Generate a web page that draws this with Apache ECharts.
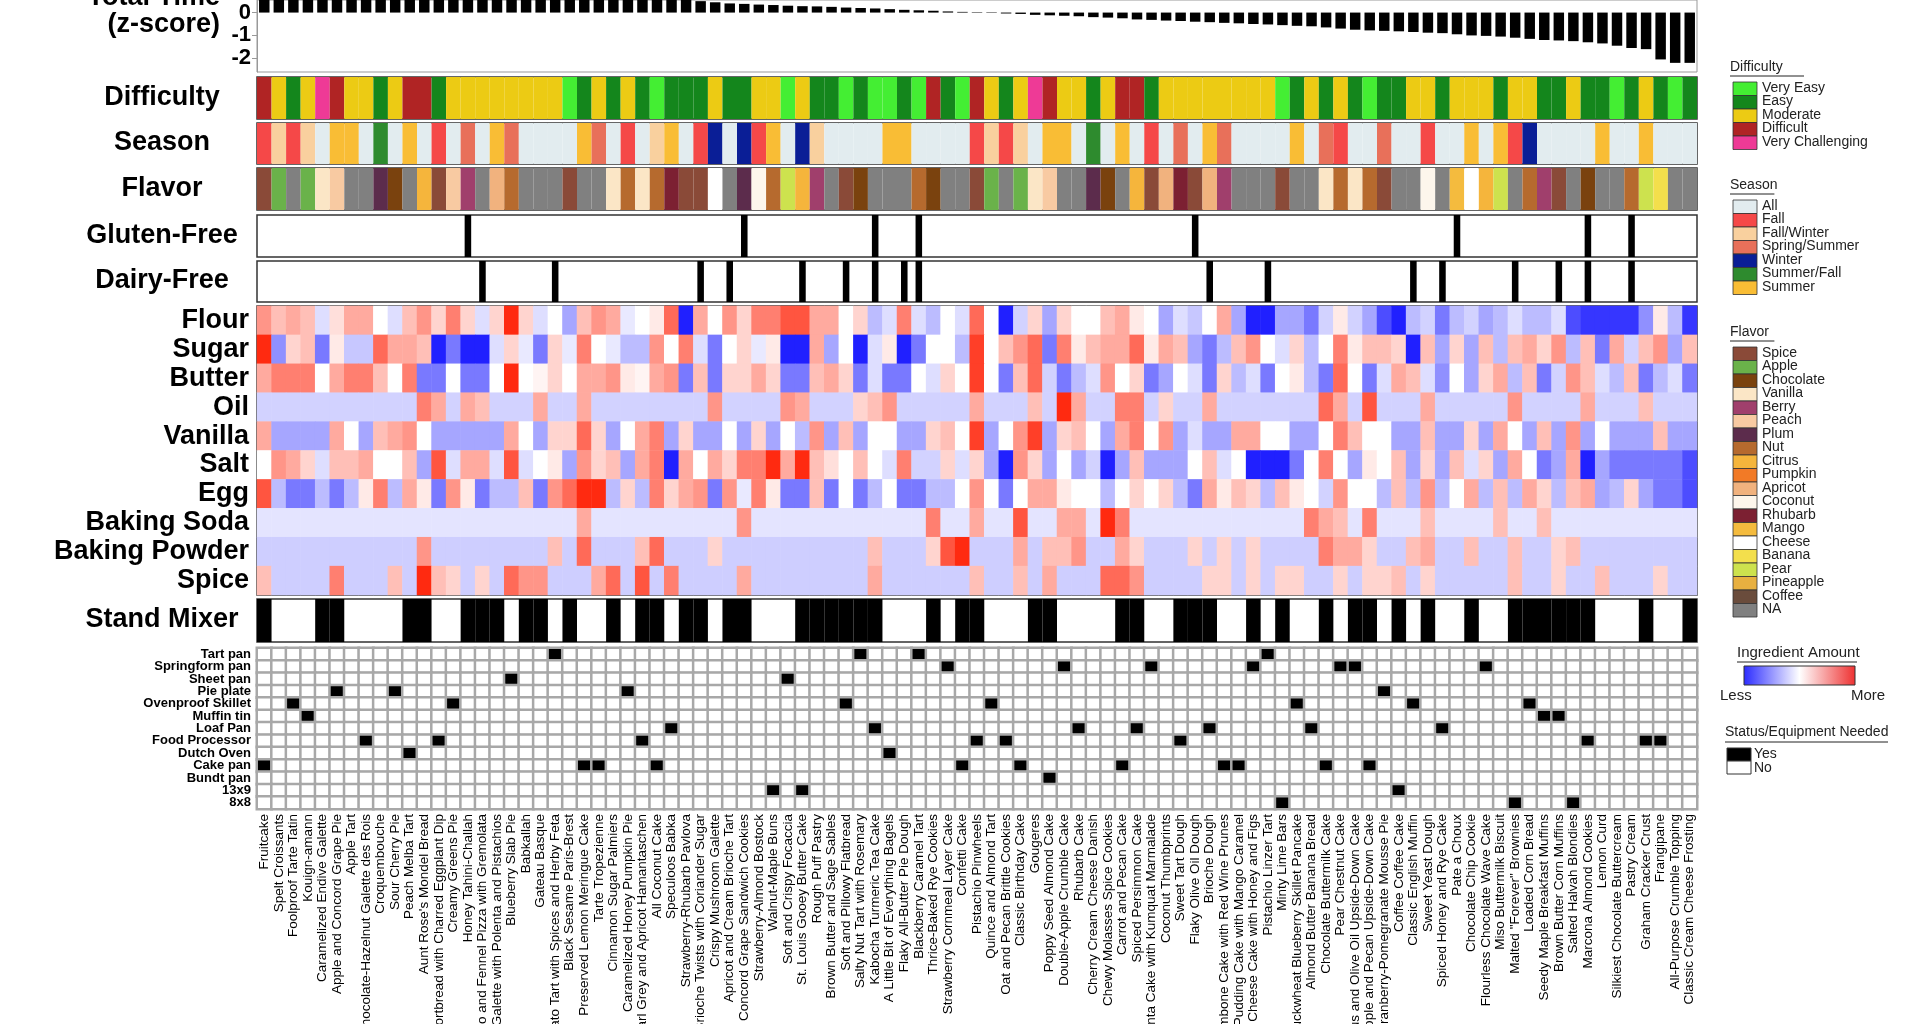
<!DOCTYPE html>
<html>
<head>
<meta charset="utf-8">
<script src="https://cdn.jsdelivr.net/npm/echarts@6/dist/echarts.min.js"></script>
<style>
  html, body { margin: 0; padding: 0; background: #fff; }
  #chart { width: 1920px; height: 1024px; }
</style>
</head>
<body>
<div id="chart"></div>
<script>
// recipe names, in plot order
const recipes = ['Fruitcake','Spelt Croissants','Foolproof Tarte Tatin','Kouign-amann','Caramelized Endive Galette','Apple and Concord Grape Pie','Apple Tart','Chocolate-Hazelnut Galette des Rois','Croquembouche','Sour Cherry Pie',
 'Peach Melba Tart',"Aunt Rose's Mondel Bread",'Shortbread with Charred Eggplant Dip','Creamy Greens Pie','Honey Tahini-Challah','Potato and Fennel Pizza with Gremolata','Plum Galette with Polenta and Pistachios','Blueberry Slab Pie','Babkallah','Gateau Basque',
 'Tomato Tart with Spices and Herby Feta','Black Sesame Paris-Brest','Preserved Lemon Meringue Cake','Tarte Tropezienne','Cinnamon Sugar Palmiers','Caramelized Honey Pumpkin Pie','Earl Grey and Apricot Hamantaschen','All Coconut Cake','Speculoos Babka','Strawberry-Rhubarb Pavlova',
 'Brioche Twists with Coriander Sugar','Crispy Mushroom Galette','Apricot and Cream Brioche Tart','Concord Grape Sandwich Cookies','Strawberry-Almond Bostock','Walnut-Maple Buns','Soft and Crispy Focaccia','St. Louis Gooey Butter Cake','Rough Puff Pastry','Brown Butter and Sage Sables',
 'Soft and Pillowy Flatbread','Salty Nut Tart with Rosemary','Kabocha Turmeric Tea Cake','A Little Bit of Everything Bagels','Flaky All-Butter Pie Dough','Blackberry Caramel Tart','Thrice-Baked Rye Cookies','Strawberry Cornmeal Layer Cake','Confetti Cake','Pistachio Pinwheels',
 'Quince and Almond Tart','Oat and Pecan Brittle Cookies','Classic Birthday Cake','Gougeres','Poppy Seed Almond Cake','Double-Apple Crumble Cake','Rhubarb Cake','Cherry Cream Cheese Danish','Chewy Molasses Spice Cookies','Carrot and Pecan Cake',
 'Spiced Persimmon Cake','Polenta Cake with Kumquat Marmalade','Coconut Thumbprints','Sweet Tart Dough','Flaky Olive Oil Dough','Brioche Dough','Trombone Cake with Red Wine Prunes','Pudding Cake with Mango Caramel','Cheese Cake with Honey and Figs','Pistachio Linzer Tart',
 'Minty Lime Bars','Buckwheat Blueberry Skillet Pancake','Almond Butter Banana Bread','Chocolate Buttermilk Cake','Pear Chestnut Cake','Citrus and Olive Oil Upside-Down Cake','Apple and Pecan Upside-Down Cake','Cranberry-Pomegranate Mousse Pie','Coffee Coffee Cake','Classic English Muffin',
 'Sweet Yeast Dough','Spiced Honey and Rye Cake','Pate a Choux','Chocolate Chip Cookie','Flourless Chocolate Wave Cake','Miso Buttermilk Biscuit','Malted "Forever" Brownies','Loaded Corn Bread','Seedy Maple Breakfast Muffins','Brown Butter Corn Muffins',
 'Salted Halvah Blondies','Marcona Almond Cookies','Lemon Curd','Silkiest Chocolate Buttercream','Pastry Cream','Graham Cracker Crust','Frangipane','All-Purpose Crumble Topping','Classic Cream Cheese Frosting'];

const totalTime = [3.1,3.0,2.8,2.7,2.6,2.5,2.4,2.2,2.1,2.0, 1.9,1.8,1.7,1.6,1.5,1.45,1.4,1.3,1.25,1.2,
 1.1,1.05,1.0,0.95,0.9,0.85,0.8,0.75,0.7,0.65, 0.5,0.45,0.4,0.38,0.35,0.33,0.3,0.28,0.27,0.25,
 0.22,0.2,0.18,0.15,0.12,0.1,0.08,0.05,0.03,0.02, -0.02,-0.04,-0.06,-0.1,-0.12,-0.14,-0.16,-0.2,-0.22,-0.25,
 -0.3,-0.32,-0.35,-0.37,-0.4,-0.42,-0.45,-0.47,-0.5,-0.52, -0.55,-0.58,-0.6,-0.65,-0.7,-0.75,-0.78,-0.8,-0.82,-0.85,
 -0.88,-0.9,-0.95,-1.0,-1.02,-1.05,-1.1,-1.15,-1.2,-1.22, -1.25,-1.3,-1.35,-1.45,-1.55,-1.6,-2.05,-2.2,-2.2];

const difficultyNames = ['Very Easy','Easy','Moderate','Difficult','Very Challenging'];
const difficultyColors = ['#44ee33','#14861c','#eccb14','#b02424','#ee3a96'];
// 0 very easy .. 4 very challenging
const difficulty = [3,2,1,2,4,3,2,2,1,2, 3,3,1,2,2,2,2,2,2,2, 2,0,1,2,1,2,1,0,1,1, 1,2,1,1,2,2,0,2,1,1,
 0,1,0,0,1,0,3,1,0,3, 2,1,2,4,3,2,2,1,2,3, 3,1,2,2,2,2,2,2,2,2, 0,1,2,1,2,1,0,1,1,2,
 2,1,2,2,2,1,2,2,1,1, 2,1,1,0,1,2,1,0,1];

const seasonNames = ['All','Fall','Fall/Winter','Spring/Summer','Winter','Summer/Fall','Summer'];
const seasonColors = ['#e2ecef','#f54848','#f9d09e','#e8705a','#0a1e96','#2e8b2e','#f9bd35'];
const season = [1,2,1,2,0,6,6,0,5,0, 6,0,1,0,3,0,6,3,0,0, 0,0,6,3,0,1,0,2,6,0, 1,4,0,4,1,6,0,4,2,0,
 0,0,0,6,6,0,0,0,0,1, 2,1,2,0,6,6,0,5,0,6, 0,1,0,3,0,6,3,0,0,0, 0,6,0,3,1,0,0,3,0,0,
 1,0,0,6,0,6,1,4,0,0, 0,0,6,0,0,6,0,0,0];

const flavorNames = ['Spice','Apple','Chocolate','Vanilla','Berry','Peach','Plum','Nut','Citrus','Pumpkin','Apricot','Coconut','Rhubarb','Mango','Cheese','Banana','Pear','Pineapple','Coffee','NA'];
const flavorColors = ['#8a4a38','#6ab24a','#7a420e','#fbe6c6','#a03f6c','#f8caa2','#5c2c4c','#b66a2e','#f5b53c','#f27a26','#f1b27e','#fdf6ec','#7c2032','#f4bb3e','#ffffff','#f3df4c','#cde24e','#e8b040','#6a4c3c','#808080'];
const flavor = [0,1,19,1,3,5,19,19,6,2, 19,8,0,5,4,19,10,7,19,19, 19,0,19,19,3,7,3,7,12,0, 0,14,19,6,11,7,16,8,4,19,
 0,2,19,19,19,7,2,19,19,0, 1,19,1,3,5,19,19,6,2,19, 8,0,10,12,0,10,4,19,19,19, 0,19,19,3,7,3,7,0,19,19,
 11,19,13,14,8,16,19,7,4,0, 19,2,19,19,7,16,15,19,19];

const glutenFree = [14,33,42,45,64,82,91,94];
const dairyFree = [15,20,30,32,37,40,42,44,45,65,69,79,81,86,89,91,94];
const standMixer = [0,4,5,10,11,14,15,16,18,19,21,24,26,27,29,30,32,33,37,38,39,40,41,42,46,48,49,53,54,59,60,63,64,65,68,70,73,75,76,78,80,83,86,87,88,89,90,91,95,98];

const ingredients = ['Flour','Sugar','Butter','Oil','Vanilla','Salt','Egg','Baking Soda','Baking Powder','Spice'];
const flour = [.5,.3,.4,.3,-.15,.15,.4,.4,0,-.15, .3,.5,.2,.6,.2,-.15,.2,1,.2,-.15, 0,-.4,.3,.5,.4,-.1,0,.1,.7,-1,
 .4,0,.5,.2,.6,.6,.8,.8,.4,.4, 0,.2,-.3,-.15,.6,-.15,-.3,0,-.15,.7, 0,-1,-.2,.2,-.4,.2,0,0,.3,.4,
 .1,0,-.4,-.15,-.25,0,.4,-.4,-1,-1, -.4,-.4,-.6,-.2,.1,-.2,-.4,-.8,-1,-.3, -.2,-.6,-.3,-.2,-.4,-.3,-.15,-.3,-.3,-.15,
 -.8,-.9,-.9,-.9,-.9,-.5,.1,-.3,-.9];
const sugar = [1,-.5,.2,.3,-.6,.1,-.25,-.25,.7,.4, .4,.3,-1,-.6,-1,-1,-.15,.2,-.1,-.6, .2,-.1,.6,0,-.1,-.3,-.3,.5,0,.6,
 -.15,-.6,0,.2,-.1,.1,-1,-1,.4,-.4, 0,-1,-.15,.1,-1,-.6,0,0,-.3,.9, 0,.3,.5,.7,-.6,.6,.1,.3,.4,.4,
 .7,.1,.4,.3,-.4,-.6,-.3,.3,.5,0, -.15,.2,-.3,0,.6,.1,.3,.3,.2,-1, .3,-.4,.2,-.4,.3,-.3,.3,.4,.2,.5,
 -.3,.3,-.6,.4,-.2,.3,.5,-.4,.3];
const butter = [.4,.6,.6,.6,0,.4,.6,.6,.3,0, .6,-.6,-.6,0,-.6,-.6,0,1,0,.05, .2,0,.4,.4,.5,.1,.05,.4,.5,-.6,
 .3,-.6,.2,.2,.4,.2,-.6,-.6,.3,.4, .2,-.6,-.15,-.6,-.6,0,-.15,.2,0,.9, 0,-.6,.3,.7,-.2,-.6,-.3,-.15,.5,0,
 .2,-.6,-.4,0,-.15,-.6,.2,-.3,-.15,-.6, 0,.1,-.3,-.6,.7,0,-.6,-.15,.4,.3, -.15,-.5,0,-.4,.2,.4,-.3,.3,-.6,-.2,
 .5,.3,-.15,-.3,.3,-.6,-.3,-.15,-.6];
const oil = [-.2,-.2,-.2,-.2,-.2,-.2,-.2,-.2,-.2,-.2, -.2,.6,.4,-.2,.4,.3,-.2,-.2,-.2,.4, -.2,-.2,.4,-.2,-.2,-.2,-.2,-.2,-.2,-.2,
 -.2,.5,-.2,-.2,-.2,-.2,.5,.4,-.2,-.2, -.2,.2,.3,.5,-.2,-.2,-.2,-.2,-.2,.4, -.2,-.2,-.2,.3,-.2,1,.4,-.2,-.2,.6,
 .6,-.2,.2,-.2,-.2,.4,-.2,-.2,-.2,-.2, -.2,-.2,-.2,.7,.4,-.2,.8,-.2,-.2,-.2, .4,-.2,-.2,-.2,-.2,-.2,.5,-.2,-.2,-.2,
 -.2,.4,-.2,-.2,-.2,.3,-.2,-.2,-.2];
const vanilla = [.4,-.4,-.4,-.4,-.4,.4,0,-.4,.3,.4, .5,0,-.4,-.4,-.4,-.4,-.4,.4,0,-.4, .2,.2,.7,.2,-.4,0,.4,.6,-.4,.2,
 -.4,-.4,0,-.4,.2,-.4,0,-.3,.5,-.4, .3,-.4,0,0,-.4,-.4,.2,.3,0,.9, -.4,0,.5,.9,-.4,.2,.3,0,-.4,.4,
 .6,0,.5,-.4,-.15,-.4,-.4,.4,.4,0, 0,-.4,-.4,0,.6,.3,0,0,-.4,-.4, .3,-.4,-.4,.2,-.4,.4,0,-.4,.3,-.4,
 .5,-.4,0,-.4,-.4,-.4,.3,-.4,-.4];
const salt = [0,.5,.4,.2,-.15,.3,.3,.4,0,0, .3,-.4,.8,-.15,.4,.4,-.15,.8,-.15,0, .1,-.4,.5,.2,.3,-.4,.4,.6,-1,.4,
 0,.4,.2,.6,.6,1,.4,1,.3,.15, 0,.3,0,-.15,.6,-.2,-.2,.2,-.15,.2, -.4,-1,.5,.2,-.4,0,-.4,-.2,-1,-.4,
 .3,-.4,-.4,-.4,0,.3,-.15,0,-1,-1, -1,-.6,0,.6,0,-.4,.1,0,.3,-.4, .2,-.4,.3,-.15,.2,-.4,.4,0,-.6,-.4,
 .4,-1,-.4,-.6,-.6,-.6,-.6,-.6,-.8];
const egg = [.8,-.3,-.6,-.6,-.3,-.6,-.3,.1,.6,-.3, .4,.1,-.6,.5,.1,-.6,-.3,-.3,.3,-.6, .5,.7,1,1,-.3,.2,-.3,.6,.2,.4,
 .5,-.6,.5,-.1,.6,.1,-.6,-.6,.3,-.6, 0,-.6,-.3,0,-.6,-.6,-.3,-.3,0,.5, 0,-.6,0,.4,.4,.1,0,0,-.3,0,
 .2,0,.2,-.3,-.6,.4,.1,.3,.2,-.3, .3,.1,0,-.2,.5,0,0,-.3,.3,-.3, .5,-.3,0,.4,-.3,.3,-.3,.4,.2,-.3,
 .3,.4,-.4,-.3,.2,-.4,-.6,-.6,-.8];
const bakingSoda = [-.12,-.12,-.12,-.12,-.12,-.12,-.12,-.12,-.12,-.12, -.12,-.12,-.12,-.12,-.12,-.12,-.12,-.12,-.12,-.12,
 -.12,-.12,.4,-.12,-.12,-.12,-.12,-.12,-.12,-.12, -.12,-.12,-.12,.5,-.12,-.12,-.12,-.12,-.12,-.12,
 -.12,-.12,-.12,-.12,-.12,-.12,.6,-.12,-.12,.4, -.12,-.12,.8,-.12,-.12,.4,.4,-.12,1,.6,
 -.12,-.12,-.12,-.12,-.12,-.12,-.12,-.12,-.12,-.12, -.12,-.12,.6,.4,.3,-.12,.6,-.12,-.12,-.12,
 .3,-.12,-.12,-.12,-.12,.3,-.12,-.12,.3,-.12, -.12,-.12,-.12,-.12,-.12,-.12,-.12,-.12,-.12];
const bakingPowder = [-.22,-.22,-.22,-.22,-.22,-.22,-.22,-.22,-.22,-.22, -.22,.5,-.22,-.22,-.22,-.22,-.22,-.22,-.22,-.22,
 .3,-.22,.7,-.22,-.22,-.22,.3,.7,-.22,-.22, -.22,.2,-.22,-.22,-.22,-.22,-.22,-.22,-.22,-.22,
 -.22,-.22,.3,-.22,-.22,-.22,.2,.8,1,-.22, -.22,-.22,.4,-.22,.3,.3,.5,-.22,-.22,.4,
 .2,-.22,-.22,-.22,.2,-.22,.2,-.22,.2,-.22, -.22,-.22,-.22,.6,.4,.4,.2,-.22,-.22,.3,
 .4,-.22,-.22,.3,-.22,-.22,.3,-.22,-.22,.2, .3,-.22,-.22,-.22,-.22,-.22,-.22,-.22,-.22];
const spice = [.3,-.22,-.22,-.22,-.22,.6,-.22,-.22,-.22,.3, -.22,1,.3,.2,-.22,.2,-.22,.7,.5,.5,
 -.22,-.22,-.22,.4,.7,-.22,.8,-.22,.6,-.22, -.22,-.22,-.22,.4,-.22,-.22,-.22,-.22,-.22,-.22,
 -.22,-.22,.4,-.22,-.22,-.22,-.22,-.22,-.22,.3, -.22,-.22,.3,-.22,.4,-.22,-.22,-.22,.7,.7,
 .5,-.22,-.22,-.22,-.22,.2,.2,-.22,.2,-.22, .2,.2,-.22,-.22,.2,-.22,.2,.2,.3,-.22,
 .2,-.22,-.22,-.22,-.22,-.22,.3,-.22,-.22,.2, -.22,-.22,.3,-.22,-.22,-.22,.2,-.22,-.22];
const ingredientRows = [flour, sugar, butter, oil, vanilla, salt, egg, bakingSoda, bakingPowder, spice];

const equipment = ['Tart pan','Springform pan','Sheet pan','Pie plate','Ovenproof Skillet','Muffin tin','Loaf Pan','Food Processor','Dutch Oven','Cake pan','Bundt pan','13x9','8x8'];
const equipmentUsed = [
  [20,41,45,69],
  [47,55,61,68,74,75,84],
  [17,36],
  [5,9,25,77],
  [2,13,40,50,71,79,87],
  [3,88,89],
  [28,42,56,60,65,72,81],
  [7,12,26,49,51,63,91,95,96],
  [10,43],
  [0,22,23,27,48,52,59,66,67,73,76],
  [54],
  [35,37,78],
  [70,86,90]
];

const FONT = 'Liberation Sans';
const L = 257, R = 223;
const bands = [
  {top: 0, height: 72},    // total time
  {top: 77, height: 42},   // difficulty
  {top: 123, height: 41},  // season
  {top: 168, height: 42},  // flavor
  {top: 215, height: 42},  // gluten
  {top: 261, height: 41},  // dairy
  {top: 306, height: 289}, // ingredients
  {top: 599, height: 43},  // mixer
  {top: 648, height: 161}  // equipment
];

const grid = bands.map((b, i) => ({
  left: L, right: R, top: b.top, height: b.height, outerBoundsMode: 'none',
  show: true, borderColor: '#333', borderWidth: 1.5, backgroundColor: 'transparent'
}));
grid[0].borderColor = '#999'; grid[0].borderWidth = 1;

const xAxis = bands.map((b, i) => ({
  type: 'category', gridIndex: i, data: recipes,
  axisLine: {show: false}, axisTick: {show: false},
  axisLabel: i === 8 ? {show: true, rotate: 90, interval: 0, fontFamily: FONT, fontSize: 13.5, color: '#000', margin: 5} : {show: false}
}));

const yAxis = [
  {type: 'value', gridIndex: 0, min: -2.6, max: 0.55, splitLine: {show: false},
   axisLine: {show: true, lineStyle: {color: '#999'}}, axisTick: {show: true, customValues: [0, -1, -2], lineStyle: {color: '#999'}},
   axisLabel: {customValues: [0, -1, -2], fontFamily: FONT, fontWeight: 'bold', fontSize: 22, color: '#000', margin: 6}}
];
for (let i = 1; i <= 5; i++) {
  yAxis.push({type: 'value', gridIndex: i, min: 0, max: 1, show: false});
}
yAxis.push({type: 'category', gridIndex: 6, data: ingredients, inverse: true,
  axisLine: {show: false}, axisTick: {show: false},
  axisLabel: {interval: 0, fontFamily: FONT, fontWeight: 'bold', fontSize: 27, color: '#000', margin: 8}});
yAxis.push({type: 'value', gridIndex: 7, min: 0, max: 1, show: false});
yAxis.push({type: 'category', gridIndex: 8, data: equipment, inverse: true,
  axisLine: {show: false}, axisTick: {show: false},
  axisLabel: {interval: 0, fontFamily: FONT, fontWeight: 'bold', fontSize: 13, color: '#000', margin: 6}});

function stripSeries(idx, codes, colors) {
  return {type: 'bar', xAxisIndex: idx, yAxisIndex: idx, barCategoryGap: '0%', silent: true,
    data: codes.map(c => ({value: 1, itemStyle: {color: colors[c]}}))};
}
function flagSeries(idx, list, width) {
  return {type: 'bar', xAxisIndex: idx, yAxisIndex: idx, barWidth: width, silent: true,
    itemStyle: {color: '#000'},
    data: recipes.map((_, k) => list.includes(k) ? 1 : '-')};
}

const ingData = [];
ingredientRows.forEach((row, r) => row.forEach((v, c) => ingData.push([c, r, v])));
const eqData = [];
equipmentUsed.forEach((list, r) => recipes.forEach((_, c) => eqData.push([c, r, list.includes(c) ? 1 : 0])));

const series = [
  {type: 'bar', xAxisIndex: 0, yAxisIndex: 0, data: totalTime, barWidth: '72%', itemStyle: {color: '#000'}, silent: true},
  stripSeries(1, difficulty, difficultyColors),
  stripSeries(2, season, seasonColors),
  stripSeries(3, flavor, flavorColors),
  flagSeries(4, glutenFree, '45%'),
  flagSeries(5, dairyFree, '45%'),
  {type: 'heatmap', xAxisIndex: 6, yAxisIndex: 6, data: ingData, silent: true},
  flagSeries(7, standMixer, '100%'),
  {type: 'heatmap', xAxisIndex: 8, yAxisIndex: 8, data: eqData, silent: true,
   itemStyle: {borderColor: '#a8a8a8', borderWidth: 2.5}}
];
series[7].barCategoryGap = '0%';

// legends on the right
const LX = 1733;
const graphic = [];
function legendBlock(title, y, names, colors) {
  graphic.push({type: 'text', left: LX - 3, top: y, style: {text: title, font: '14px ' + FONT, fill: '#222'}});
  graphic.push({type: 'line', shape: {x1: LX - 3, y1: y + 16, x2: LX - 3 + title.length * 7.4, y2: y + 16}, style: {stroke: '#222', lineWidth: 1}});
  names.forEach((n, i) => {
    const yy = y + 22 + i * 13.5;
    graphic.push({type: 'rect', shape: {x: LX, y: yy, width: 24, height: 13.5}, style: {fill: colors[i], stroke: '#333', lineWidth: 0.8}});
    graphic.push({type: 'text', left: LX + 29, top: yy - 1, style: {text: n, font: '14px ' + FONT, fill: '#222'}});
  });
}
legendBlock('Difficulty', 60, difficultyNames, difficultyColors);
legendBlock('Season', 178, seasonNames, seasonColors);
legendBlock('Flavor', 325, flavorNames, flavorColors);
graphic.push({type: 'text', left: 1737, top: 645, style: {text: 'Ingredient Amount', font: '15px ' + FONT, fill: '#222'}});
graphic.push({type: 'line', shape: {x1: 1737, y1: 662, x2: 1857, y2: 662}, style: {stroke: '#222', lineWidth: 1}});
graphic.push({type: 'rect', shape: {x: 1744, y: 666, width: 111, height: 19},
  style: {stroke: '#333', lineWidth: 1, fill: new echarts.graphic.LinearGradient(0, 0, 1, 0, [
    {offset: 0, color: '#2a2aff'}, {offset: 0.5, color: '#ffffff'}, {offset: 1, color: '#ee3030'}])}});
graphic.push({type: 'text', left: 1720, top: 688, style: {text: 'Less', font: '15px ' + FONT, fill: '#222'}});
graphic.push({type: 'text', left: 1851, top: 688, style: {text: 'More', font: '15px ' + FONT, fill: '#222'}});
graphic.push({type: 'text', left: 1725, top: 725, style: {text: 'Status/Equipment Needed', font: '14px ' + FONT, fill: '#222'}});
graphic.push({type: 'line', shape: {x1: 1725, y1: 742, x2: 1888, y2: 742}, style: {stroke: '#222', lineWidth: 1}});
graphic.push({type: 'rect', shape: {x: 1727, y: 748, width: 24, height: 13}, style: {fill: '#000', stroke: '#333'}});
graphic.push({type: 'rect', shape: {x: 1727, y: 761, width: 24, height: 13}, style: {fill: '#fff', stroke: '#333'}});
graphic.push({type: 'text', left: 1754, top: 747, style: {text: 'Yes', font: '14px ' + FONT, fill: '#222'}});
graphic.push({type: 'text', left: 1754, top: 761, style: {text: 'No', font: '14px ' + FONT, fill: '#222'}});

// band titles on the left
const bandTitles = [
  ['Difficulty', 98], ['Season', 143], ['Flavor', 189], ['Gluten-Free', 236], ['Dairy-Free', 281], ['Stand Mixer', 620]
];
bandTitles.forEach(([t, y]) => graphic.push({type: 'text', x: 162, y: y,
  style: {text: t, font: 'bold 27px ' + FONT, fill: '#000', textAlign: 'center', textVerticalAlign: 'middle'}}));
graphic.push({type: 'text', x: 220, y: 38,
  style: {text: 'Total Time\n(z-score)', font: 'bold 27px ' + FONT, fill: '#000', textAlign: 'right', textVerticalAlign: 'bottom', lineHeight: 27}});

const chart = echarts.init(document.getElementById('chart'));
chart.setOption({
  animation: false,
  backgroundColor: '#fff',
  grid: grid, xAxis: xAxis, yAxis: yAxis, series: series, graphic: graphic,
  visualMap: [
    {type: 'continuous', seriesIndex: 6, min: -1, max: 1, show: false, inRange: {color: ['#2020ff', '#ffffff', '#ff2a10']}},
    {type: 'piecewise', seriesIndex: 8, show: false, pieces: [{value: 0, color: '#ffffff'}, {value: 1, color: '#000000'}]}
  ]
});
</script>
</body>
</html>
